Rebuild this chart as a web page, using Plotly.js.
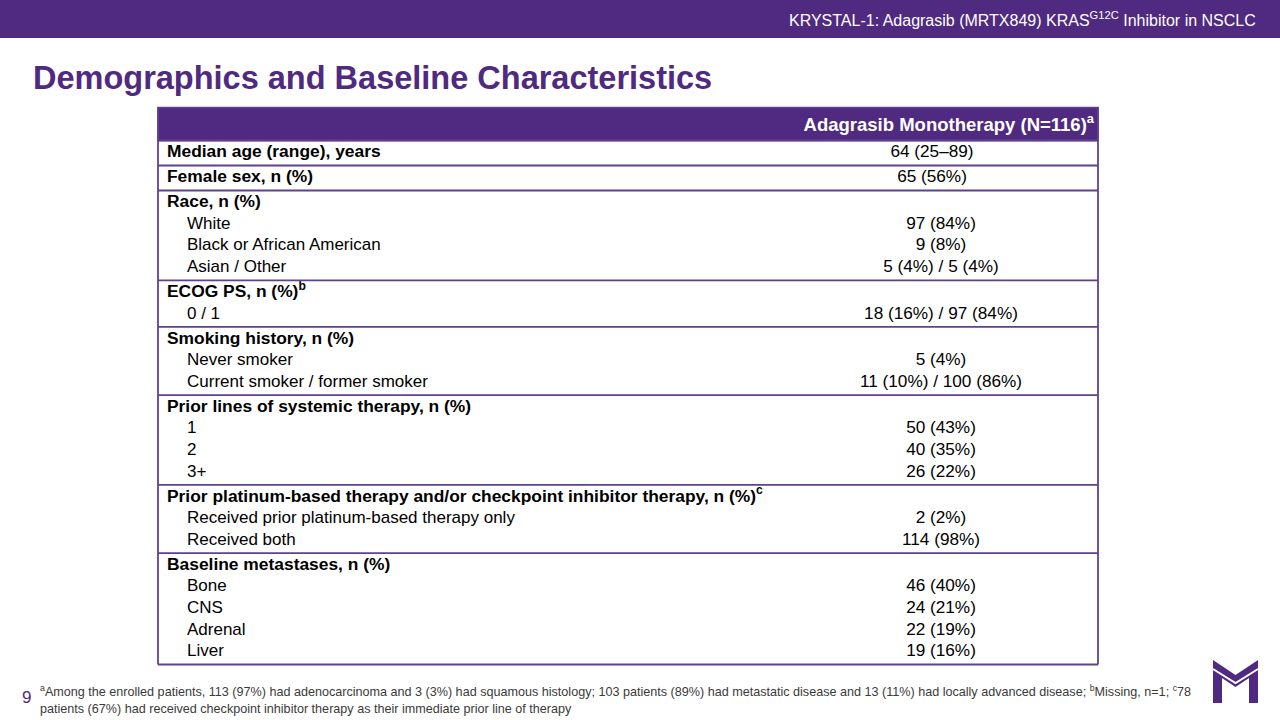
<!DOCTYPE html>
<html><head><meta charset="utf-8">
<script src="https://cdn.plot.ly/plotly-3.0.1.min.js"></script>
<style>html,body{margin:0;padding:0;background:#fff;overflow:hidden}#chart{width:1280px;height:720px}</style>
</head><body><div id="chart"></div>
<script>
// ---- data ----
const slideHeader = "KRYSTAL-1: Adagrasib (MRTX849) KRAS<sup>G12C</sup> Inhibitor in NSCLC";
const slideTitle = "Demographics and Baseline Characteristics";
const columnHeader = "Adagrasib Monotherapy (N=116)<sup>a</sup>";
const groupLabels = [
  "Median age (range), years",
  "Female sex, n (%)",
  "Race, n (%)",
  "ECOG PS, n (%)<sup>b</sup>",
  "Smoking history, n (%)",
  "Prior lines of systemic therapy, n (%)",
  "Prior platinum-based therapy and/or checkpoint inhibitor therapy, n (%)<sup>c</sup>",
  "Baseline metastases, n (%)"
];
const groupValues = ["64 (25–89)", "65 (56%)", "", "", "", "", "", ""];
const itemLabels = [
  [], [],
  ["White", "Black or African American", "Asian / Other"],
  ["0 / 1"],
  ["Never smoker", "Current smoker / former smoker"],
  ["1", "2", "3+"],
  ["Received prior platinum-based therapy only", "Received both"],
  ["Bone", "CNS", "Adrenal", "Liver"]
];
const itemValues = [
  [], [],
  ["97 (84%)", "9 (8%)", "5 (4%) / 5 (4%)"],
  ["18 (16%) / 97 (84%)"],
  ["5 (4%)", "11 (10%) / 100 (86%)"],
  ["50 (43%)", "40 (35%)", "26 (22%)"],
  ["2 (2%)", "114 (98%)"],
  ["46 (40%)", "24 (21%)", "22 (19%)", "19 (16%)"]
];
const pageNumber = "9";
const footnoteLines = [
  "<sup>a</sup>Among the enrolled patients, 113 (97%) had adenocarcinoma and 3 (3%) had squamous histology; 103 patients (89%) had metastatic disease and 13 (11%) had locally advanced disease; <sup>b</sup>Missing, n=1; <sup>c</sup>78",
  "patients (67%) had received checkpoint inhibitor therapy as their immediate prior line of therapy"
];

// ---- layout constants ----
const PURPLE = "#4f2a80";
const BORDER = "#5e4190";
const FONT = "Liberation Sans, Arial, sans-serif";
const TL = 158, TR = 1098, TOP = 107.5, HEAD_H = 33;
const LINE = 21.6, PAD = 3.4;
const LABEL_X = 167, ITEM_X = 187, VALUE_X = 941, SINGLE_VALUE_X = 932;

const gx = [], gy = [], gt = [];
const ix = [], iy = [], it = [];
const vx = [], vy = [], vt = [];
const bounds = [TOP + HEAD_H];
let yCur = TOP + HEAD_H;
groupLabels.forEach((lab, g) => {
  const n = 1 + itemLabels[g].length;
  const y0 = yCur + PAD / 2 + LINE / 2;
  gx.push(LABEL_X); gy.push(y0); gt.push("<b>" + lab + "</b>");
  if (groupValues[g]) { vx.push(SINGLE_VALUE_X); vy.push(y0); vt.push(groupValues[g]); }
  itemLabels[g].forEach((il, k) => {
    const yy = y0 + (k + 1) * LINE;
    ix.push(ITEM_X); iy.push(yy); it.push(il);
    vx.push(VALUE_X); vy.push(yy); vt.push(itemValues[g][k]);
  });
  yCur += n * LINE + PAD;
  bounds.push(yCur);
});
const BOTTOM = yCur;

const txt = (x, y, t, pos, size, color) => ({
  type: "scatter", mode: "text", x: x, y: y, text: t, textposition: pos,
  textfont: {family: FONT, size: size, color: color || "#000"},
  hoverinfo: "skip", showlegend: false, cliponaxis: false
});

const traces = [
  txt(gx, gy, gt, "middle right", 17.4),
  txt(ix, iy, it, "middle right", 17),
  txt(vx, vy, vt, "middle center", 17.2),
  txt([TR - 4], [TOP + HEAD_H / 2 + 2], ["<b>" + columnHeader + "</b>"], "middle left", 18.5, "#fff")
];

const shapes = [
  {type: "rect", xref: "x", yref: "y", x0: 0, x1: 1280, y0: 0, y1: 38, fillcolor: PURPLE, line: {width: 0}, layer: "below"},
  {type: "rect", xref: "x", yref: "y", x0: TL, x1: TR, y0: TOP, y1: TOP + HEAD_H, fillcolor: PURPLE, line: {color: BORDER, width: 1.5}, layer: "below"},
  {type: "line", xref: "x", yref: "y", x0: TL, x1: TL, y0: TOP, y1: BOTTOM, line: {color: BORDER, width: 1.8}},
  {type: "line", xref: "x", yref: "y", x0: TR, x1: TR, y0: TOP, y1: BOTTOM, line: {color: BORDER, width: 1.8}}
];
bounds.forEach(b => shapes.push({type: "line", xref: "x", yref: "y", x0: TL, x1: TR, y0: b, y1: b, line: {color: BORDER, width: 1.8}}));
// logo
shapes.push({type: "path", xref: "x", yref: "y",
  path: "M1213,703 L1213,660 L1235.5,675 L1258,660 L1258,703 L1249,703 L1249,678 L1235.5,687 L1222,678 L1222,703 Z",
  fillcolor: PURPLE, line: {width: 0}});
shapes.push({type: "path", xref: "x", yref: "y",
  path: "M1213,669 L1235.5,683 L1258,669",
  line: {color: "#fff", width: 2}});

const annotations = [
  {xref: "x", yref: "y", x: 1258, y: 19, xanchor: "right", yanchor: "middle", showarrow: false,
   text: slideHeader, font: {family: FONT, size: 16, color: "#fff"}},
  {xref: "x", yref: "y", x: 31, y: 78, xanchor: "left", yanchor: "middle", showarrow: false,
   text: "<b>" + slideTitle + "</b>", font: {family: FONT, size: 32.5, color: PURPLE}},
  {xref: "x", yref: "y", x: 26, y: 697, xanchor: "center", yanchor: "middle", showarrow: false,
   text: pageNumber, font: {family: FONT, size: 17, color: PURPLE}},
  {xref: "x", yref: "y", x: 38, y: 699, xanchor: "left", yanchor: "middle", align: "left", showarrow: false,
   text: footnoteLines.join("<br>"), font: {family: FONT, size: 12.6, color: "#3a3a3a"}}
];

const layout = {
  width: 1280, height: 720, margin: {l: 0, r: 0, t: 0, b: 0},
  paper_bgcolor: "#fff", plot_bgcolor: "#fff",
  xaxis: {range: [0, 1280], visible: false, fixedrange: true},
  yaxis: {range: [720, 0], visible: false, fixedrange: true},
  shapes: shapes, annotations: annotations, showlegend: false
};
Plotly.newPlot("chart", traces, layout, {displayModeBar: false, staticPlot: true});
</script>
</body></html>
